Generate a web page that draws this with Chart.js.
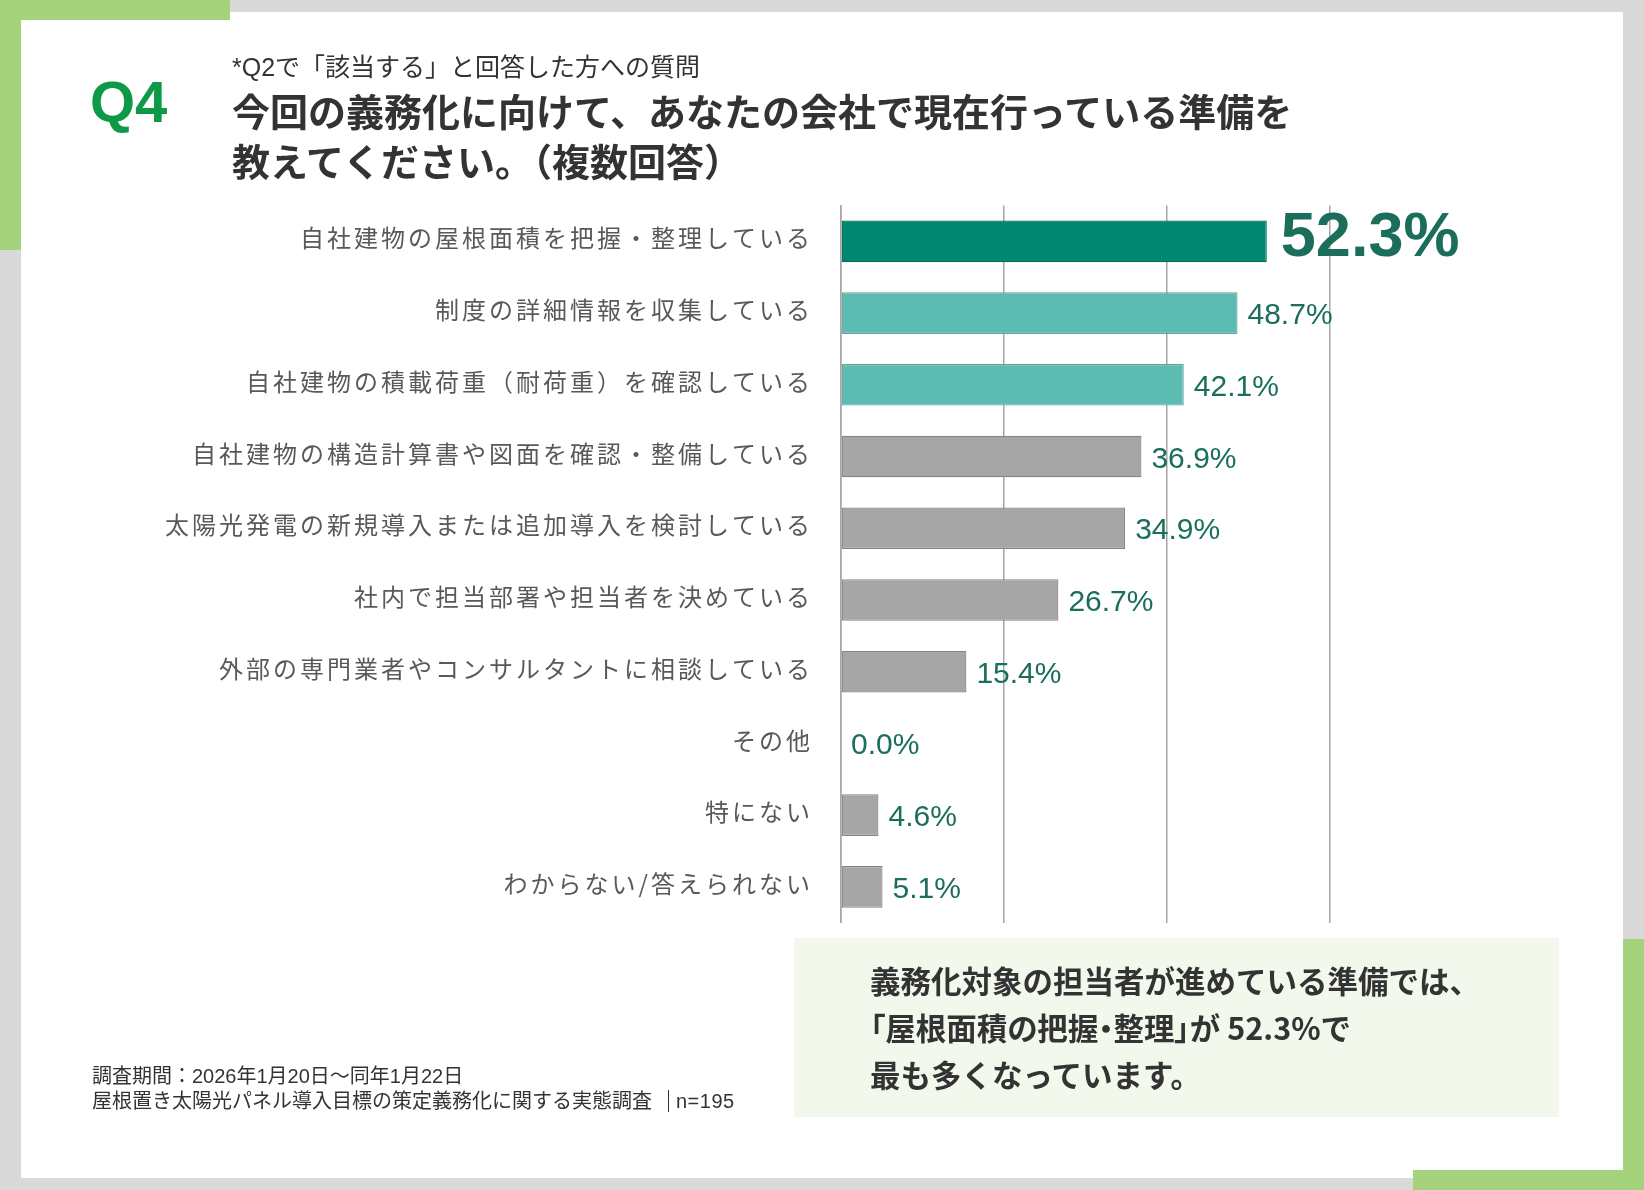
<!DOCTYPE html>
<html lang="ja">
<head>
<meta charset="utf-8">
<title>Q4 準備状況</title>
<script src="https://cdn.jsdelivr.net/npm/chart.js@4.4.1/dist/chart.umd.min.js"></script>
<style>
  html, body { margin: 0; padding: 0; }
  body {
    width: 1644px; height: 1190px; position: relative; overflow: hidden;
    background: #d9d9d9; color: #333;
    font-family: "Noto Sans CJK JP", sans-serif;
  }
  .card { position: absolute; left: 21px; top: 12px; width: 1602px; height: 1166px; background: #fff; }
  .accent { position: absolute; background: #a5d27c; }
  .txt { position: absolute; z-index: 2; white-space: nowrap; }
  #q { left: 90px; top: 73px; font: bold 58px/58px "Liberation Sans", Arial, sans-serif; color: #0c9a48; }
  #sub { left: 232px; top: 49px; font-size: 25px; line-height: 36px; font-family: "Liberation Sans", "Noto Sans CJK JP", sans-serif; }
  #title { left: 232px; top: 85px; font-size: 38px; line-height: 50px; font-weight: bold; color: #333; }
  #foot { left: 92px; top: 1064px; font-size: 20px; line-height: 25px; font-family: "Liberation Sans", "Noto Sans CJK JP", sans-serif; }
  #foot .n { border-left: 1.5px solid #333; padding-left: 7px; margin-left: 16px; letter-spacing: 0.5px; }
  #box { position: absolute; left: 794px; top: 938px; width: 765px; height: 179px; background: #f2f8ec; z-index: 1; }
  #summary { left: 870px; top: 957px; font-size: 30.5px; line-height: 47px; font-weight: bold; color: #333; }
  #summary .p { font-feature-settings: "palt"; }
  #chartWrap { position: absolute; left: 0; top: 0; width: 1644px; height: 1190px; z-index: 1; }
</style>
</head>
<body>
<div class="card"></div>
<div class="accent" style="left:0;top:0;width:230px;height:20px"></div>
<div class="accent" style="left:0;top:0;width:21px;height:250px"></div>
<div class="accent" style="left:1623px;top:939px;width:21px;height:251px"></div>
<div class="accent" style="left:1413px;top:1170px;width:231px;height:20px"></div>

<div class="txt" id="q">Q4</div>
<div class="txt" id="sub">*Q2で「該当する」と回答した方への質問</div>
<div class="txt" id="title">今回の義務化に向けて、あなたの会社で現在行っている準備を<br>教えてください。（複数回答）</div>

<div id="box"></div>
<div class="txt" id="summary">義務化対象の担当者が進めている準備では、<br><span class="p">「屋根面積の把握・整理」</span>が 52.3%で<br>最も多くなっています。</div>

<div class="txt" id="foot">調査期間：2026年1月20日～同年1月22日<br>屋根置き太陽光パネル導入目標の策定義務化に関する実態調査<span class="n">n=195</span></div>

<div id="chartWrap"><canvas id="chart"></canvas></div>

<script>
const categories = [
  "自社建物の屋根面積を把握・整理している",
  "制度の詳細情報を収集している",
  "自社建物の積載荷重（耐荷重）を確認している",
  "自社建物の構造計算書や図面を確認・整備している",
  "太陽光発電の新規導入または追加導入を検討している",
  "社内で担当部署や担当者を決めている",
  "外部の専門業者やコンサルタントに相談している",
  "その他",
  "特にない",
  "わからない/答えられない"
];
const values = [52.3, 48.7, 42.1, 36.9, 34.9, 26.7, 15.4, 0.0, 4.6, 5.1];
const gridTicks = [0, 20, 40, 60];

function barFill(i) {
  if (i === 0) return "#00876f";
  if (i < 3) return "#5bbdb1";
  return "#a6a6a6";
}
function barEdge(i) {
  if (i === 0) return "#0b6a58";
  if (i < 3) return "#6f9f99";
  return "#858585";
}

// letter spacing for the category labels, value labels drawn without it
const valueLabels = {
  id: "valueLabels",
  beforeDraw(chart) {
    chart.ctx.letterSpacing = "3px";
  },
  afterDatasetsDraw(chart) {
    const ctx = chart.ctx;
    const meta = chart.getDatasetMeta(0);
    ctx.save();
    ctx.letterSpacing = "0px";
    ctx.fillStyle = "#1b6e5c";
    ctx.textAlign = "left";
    ctx.textBaseline = "alphabetic";
    meta.data.forEach((bar, i) => {
      const txt = values[i].toFixed(1) + "%";
      if (i === 0) {
        ctx.font = 'bold 63px "Liberation Sans", Arial, sans-serif';
        ctx.fillText(txt, bar.x + 14, bar.y + 15);
      } else {
        ctx.font = '30px "Liberation Sans", Arial, sans-serif';
        ctx.fillText(txt, bar.x + 10, bar.y + 11);
      }
    });
    ctx.restore();
  }
};

new Chart(document.getElementById("chart"), {
  type: "bar",
  data: {
    labels: categories,
    datasets: [{
      data: values,
      backgroundColor: values.map((v, i) => barFill(i)),
      borderColor: values.map((v, i) => barEdge(i)),
      borderWidth: 1.2,
      borderSkipped: false,
      barPercentage: 0.58,
      categoryPercentage: 1
    }]
  },
  options: {
    indexAxis: "y",
    responsive: true,
    maintainAspectRatio: false,
    animation: false,
    layout: { padding: { left: 0, top: 205.5, right: 314.5, bottom: 267.3 } },
    plugins: { legend: { display: false }, tooltip: { enabled: false } },
    scales: {
      x: {
        min: gridTicks[0],
        max: gridTicks[gridTicks.length - 1],
        afterBuildTicks: s => { s.ticks = gridTicks.map(v => ({ value: v })); },
        ticks: { display: false },
        grid: { color: "#a6a6a6", lineWidth: 1.5, drawTicks: false },
        border: { display: false },
        afterFit: s => { s.height = 0; }
      },
      y: {
        grid: { display: false, drawTicks: false },
        border: { display: true, color: "#a6a6a6", width: 1.5 },
        ticks: {
          color: "#595959",
          padding: 28,
          labelOffset: -3,
          font: { family: '"Noto Sans CJK JP", sans-serif', size: 24 }
        },
        afterFit: s => { s.width = 841; }
      }
    }
  },
  plugins: [valueLabels]
});
</script>
</body>
</html>
